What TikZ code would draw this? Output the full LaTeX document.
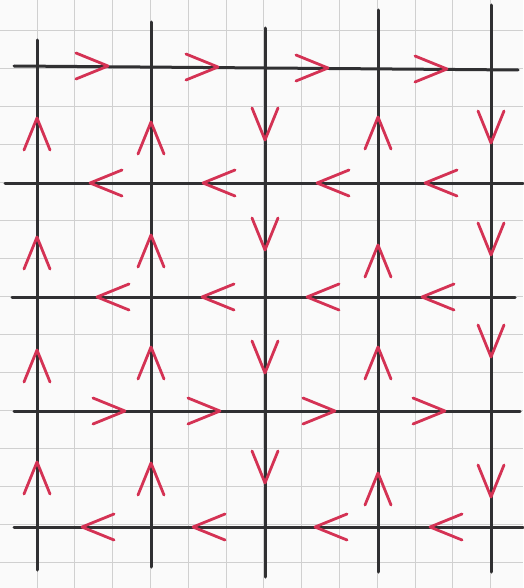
\documentclass[tikz,border=0pt]{standalone}
\usetikzlibrary{calc}
\definecolor{pencil}{RGB}{48,48,50}
\definecolor{pen}{RGB}{212,50,84}
\definecolor{paper}{RGB}{250,250,250}
\definecolor{gridline}{RGB}{208,208,208}

\begin{document}
\begin{tikzpicture}[x=1pt, y=-1pt,
  wire/.style={pencil, line width=3pt, line cap=round},
  squared/.style={gridline, line width=0.9pt},
  chev/.pic={\draw[pen, line width=2.8pt, line cap=round, line join=round] (-32,-13) -- (0,0) -- (-32,13);}]
\fill[paper] (0,0) rectangle (523,588);
\useasboundingbox (0,0) rectangle (523,588);
% squared paper
\foreach \k in {-1,...,13} \draw[squared] ({37+37.8*\k},0) -- ({37+37.8*\k},588);
\foreach \k in {-1,...,14} \draw[squared] (0,{68+38*\k}) -- (523,{68+38*\k});
% ends of the pencil lines
\coordinate (top-1) at (37,40);  \coordinate (bot-1) at (37,570);
\coordinate (top-2) at (151,22); \coordinate (bot-2) at (151,567);
\coordinate (top-3) at (265,28); \coordinate (bot-3) at (265,577);
\coordinate (top-4) at (378,10); \coordinate (bot-4) at (378,572);
\coordinate (top-5) at (491,5);  \coordinate (bot-5) at (491,572);
\coordinate (left-1) at (14,66);  \coordinate (right-1) at (518,70);
\coordinate (left-2) at (5,183);  \coordinate (right-2) at (523,183);
\coordinate (left-3) at (12,297); \coordinate (right-3) at (515,297);
\coordinate (left-4) at (14,411); \coordinate (right-4) at (520,411);
\coordinate (left-5) at (14,527); \coordinate (right-5) at (523,527);
\foreach \i in {1,...,5} {
  \draw[wire] (top-\i) -- (bot-\i);
  \draw[wire] (left-\i) -- (right-\i);
}
% red arrows, rows
\foreach \x/\y in {108/66, 218/67, 328/68, 447/69, 125/411, 220/411, 335/411, 445/411}
  \pic at (\x,\y) {chev};
\foreach \x/\y in {90/183, 203/183, 317/183, 425/183, 97/297, 202/297, 307/297, 422/297, 82/527, 193/527, 315/527, 430/527}
  \pic[rotate=180] at (\x,\y) {chev};
% red arrows, columns
\foreach \x/\y in {37/118, 37/237, 37/350, 37/462, 151/122, 151/235, 151/347, 151/463, 378/117, 378/245, 378/347, 378/473}
  \pic[rotate=90] at (\x,\y) {chev};
\foreach \x/\y in {265/140, 265/250, 265/373, 265/483, 491/143, 491/255, 491/357, 491/497}
  \pic[rotate=-90] at (\x,\y) {chev};
\end{tikzpicture}
\end{document}
